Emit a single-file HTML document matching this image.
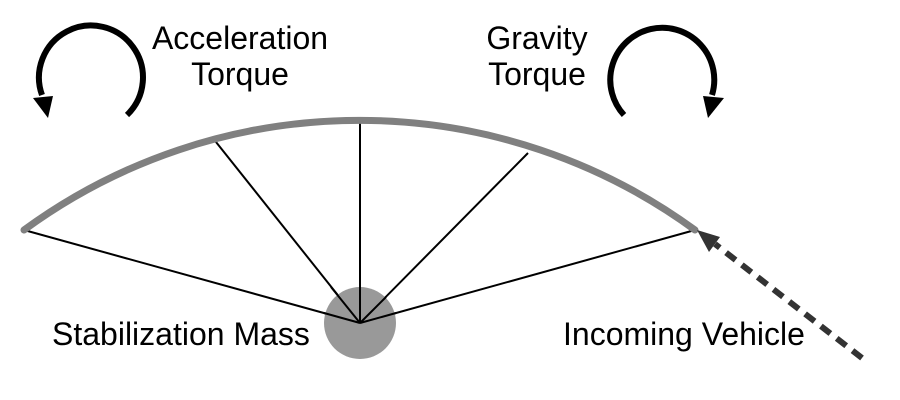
<!DOCTYPE html>
<html><head><style>body{margin:0;background:#fff}svg{display:block}text{font-family:"Liberation Sans",sans-serif;font-size:32px;fill:#000}</style></head><body>
<svg width="900" height="400" viewBox="0 0 900 400">
<g stroke="#000" stroke-width="2" fill="none">
<line x1="360" y1="323" x2="24" y2="230"/>
<line x1="360" y1="323" x2="212" y2="137"/>
<line x1="360" y1="323" x2="360" y2="120"/>
<line x1="360" y1="323" x2="528" y2="153"/>
<line x1="360" y1="323" x2="695" y2="230"/>
</g>
<circle cx="360" cy="323" r="36" fill="#999"/>
<g stroke="#000" stroke-width="2"><line x1="360" y1="323" x2="324" y2="313"/><line x1="360" y1="323" x2="331" y2="287"/><line x1="360" y1="323" x2="360" y2="287"/><line x1="360" y1="323" x2="386" y2="297"/><line x1="360" y1="323" x2="396" y2="313"/></g>
<path d="M24 230 A568 568 0 0 1 695 230" stroke="#808080" stroke-width="7" fill="none" stroke-linecap="round"/>
<path d="M127 115 A52 52 0 1 0 42 95" stroke="#000" stroke-width="6" fill="none"/>
<polygon points="33,98 53,96 48,118" fill="#000"/>
<path d="M624 115 A52 52 0 1 1 712 95" stroke="#000" stroke-width="6" fill="none"/>
<polygon points="724,98 703,96 708,118" fill="#000"/>
<line x1="862" y1="358" x2="715" y2="244" stroke="#333" stroke-width="6" stroke-dasharray="12 8"/>
<polygon points="697,230 720,237 709,252" fill="#333"/>
<text x="240" y="49" text-anchor="middle">Acceleration</text>
<text x="240" y="85" text-anchor="middle">Torque</text>
<text x="537" y="49" text-anchor="middle">Gravity</text>
<text x="537" y="85" text-anchor="middle">Torque</text>
<text x="52" y="345">Stabilization Mass</text>
<text x="563" y="345">Incoming Vehicle</text>
</svg>
</body></html>
